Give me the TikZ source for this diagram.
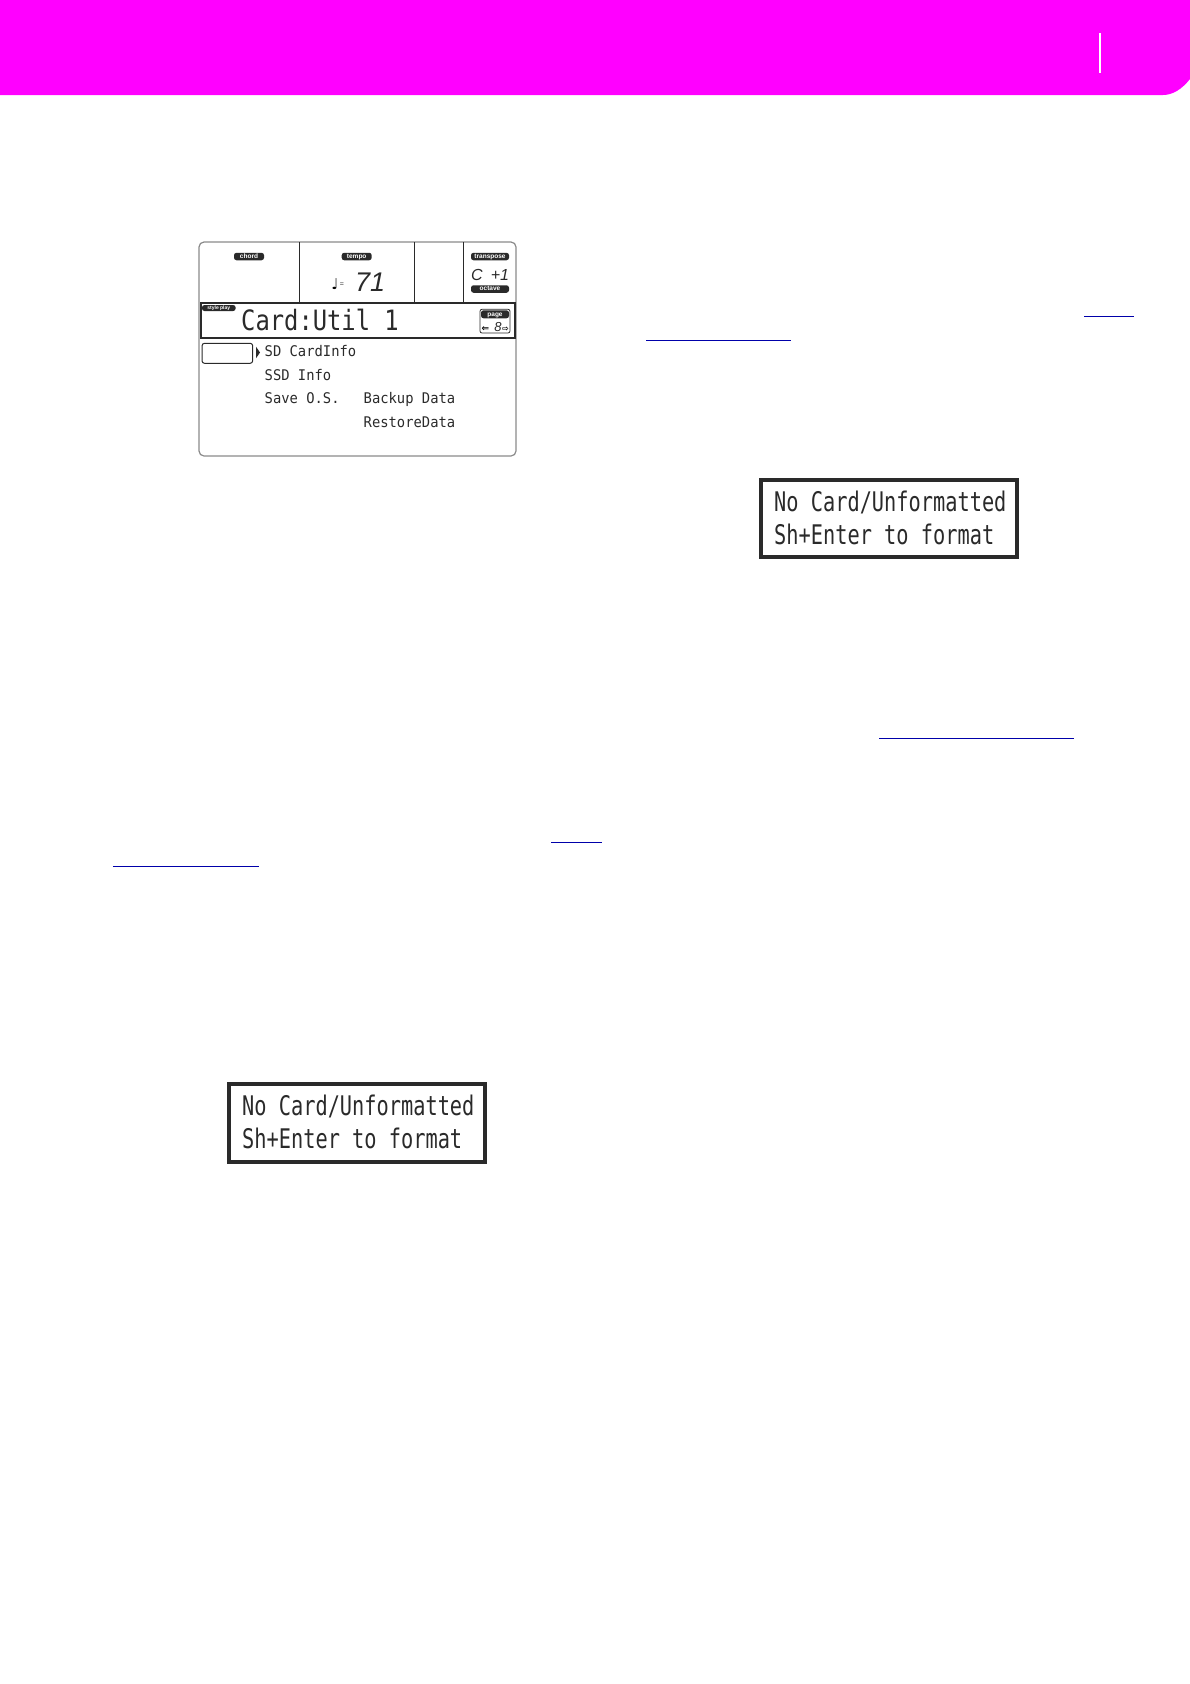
\documentclass[tikz,border=0pt]{standalone}
\usepackage{fontspec}
\setmainfont{Liberation Sans}
\newfontfamily\lcdtitle[FakeStretch=0.85]{DejaVu Sans Mono}
\newfontfamily\lcdbox[FakeStretch=0.752]{DejaVu Sans Mono}
\newfontfamily\lcdmenu[FakeStretch=0.94]{DejaVu Sans Mono}
\newfontfamily\symfont{DejaVu Sans}
\definecolor{headmag}{HTML}{FF00FF}
\definecolor{linkblue}{HTML}{0000AA}
\definecolor{lcddark}{HTML}{2A2A2A}
\definecolor{lcdgrey}{HTML}{8A8A8A}
\tikzset{
  pill/.style={fill=lcddark,text=white,rounded corners=2.5pt,inner sep=0pt,minimum height=7.5pt,
    text height=4.4pt,text depth=1pt,font=\bfseries\fontsize{6.5}{6.5}\selectfont},
  titletext/.style={anchor=base west,inner sep=0pt,text=lcddark,font=\lcdtitle\fontsize{28}{28}\selectfont},
  menutext/.style={anchor=base west,inner sep=0pt,text=lcddark,font=\lcdmenu\fontsize{14.7}{14.7}\selectfont},
  boxtext/.style={anchor=base west,inner sep=0pt,text=lcddark,font=\lcdbox\fontsize{27}{27}\selectfont},
  segtext/.style={anchor=base west,inner sep=0pt,text=lcddark,font=\itshape},
  msgbox/.style={draw=lcddark,line width=4pt,fill=white},
  link/.style={draw=linkblue,line width=1pt}
}
\begin{document}
\begin{tikzpicture}[x=1pt,y=-1pt]
  \useasboundingbox (0,0) rectangle (1190,1684);

  % page header
  \fill[headmag] (0,0) -- (1190,0) -- (1190,79) .. controls (1182,89) and (1173,95) .. (1163,95) -- (0,95) -- cycle;
  \draw[white,line width=2.5pt] (1100,33) -- (1100,73);

  % lcd frame
  \draw[lcdgrey,line width=1.2pt,rounded corners=5pt] (199,242) rectangle (516,456);
  \draw[lcddark,line width=.9pt] (299.3,242) -- (299.3,303);
  \draw[lcddark,line width=.9pt] (414.3,242) -- (414.3,303);
  \draw[lcddark,line width=.9pt] (463.7,242) -- (463.7,303);
  \draw[lcddark,line width=1.6pt] (200.7,302.7) rectangle (515,337.7);

  \node[pill,minimum width=30pt] (chord) at (249,256.5) {chord};
  \node[pill,minimum width=30pt] (tempo) at (356.7,256.5) {tempo};
  \node[pill,minimum width=38pt] (transpose) at (490,256.5) {transpose};
  \node[pill,minimum width=38pt] (octave) at (490,289) {octave};
  \node[pill,minimum width=33.7pt,minimum height=6pt,text height=3.4pt,text depth=.8pt,font=\bfseries\fontsize{5}{5}\selectfont] (styleplay) at (218.8,308) {style play};

  % tempo and transpose readouts
  \node[anchor=base,inner sep=0pt,text=black,font=\symfont\fontsize{15}{15}\selectfont] (note) at (335,289.5) {♩};
  \node[anchor=base,inner sep=0pt,text=lcddark,font=\fontsize{7}{7}\selectfont] (equals) at (342,286) {=};
  \node[segtext,font=\itshape\fontsize{27}{27}\selectfont] (tempoval) at (355,291) {71};
  \node[segtext,font=\itshape\fontsize{16}{16}\selectfont] (transval) at (471,280.5) {C\hspace{.5em}+1};

  % page widget
  \draw[lcddark,line width=.8pt,rounded corners=2pt] (480,309.3) rectangle (510,333);
  \node[pill,minimum width=28pt,minimum height=8pt] (pagelabel) at (495,314.3) {page};
  \node[anchor=base,inner sep=0pt,text=black,font=\symfont\bfseries\fontsize{9}{9}\selectfont] (pageleft) at (485.5,331) {⇐};
  \node[anchor=base,inner sep=0pt,text=lcddark,font=\itshape\fontsize{13}{13}\selectfont] (pagenum) at (498,331) {8};
  \node[anchor=base,inner sep=0pt,text=black,font=\symfont\bfseries\fontsize{8}{8}\selectfont] (pageright) at (505.5,331) {⇨};

  % title and menu
  \node[titletext] (title) at (241,330.5) {Card:Util 1};
  \draw[lcddark,line width=1pt,rounded corners=2.5pt] (202,343.3) rectangle (252.7,363.3);
  \fill[lcddark] (256,346.7) -- (260,352.5) -- (256,358.3) -- cycle;
  \node[menutext] (cardinfo) at (264.5,356.4) {SD CardInfo};
  \node[menutext] (ssdinfo) at (264.5,380.2) {SSD Info};
  \node[menutext] (saveos) at (264.5,403.5) {Save O.S.};
  \node[menutext] (backup) at (363.5,403.5) {Backup Data};
  \node[menutext] (restore) at (363.5,427.4) {RestoreData};

  % message boxes
  \draw[msgbox] (761,480) rectangle (1017,557);
  \node[boxtext] (msgrighta) at (774,511.7) {No Card/Unformatted};
  \node[boxtext] (msgrightb) at (774,544) {Sh+Enter to format};

  \draw[msgbox] (229.3,1084) rectangle (484.7,1162);
  \node[boxtext] (msglefta) at (242,1115.7) {No Card/Unformatted};
  \node[boxtext] (msgleftb) at (242,1148) {Sh+Enter to format};

  % link underlines
  \draw[link] (1084,316) -- (1134,316);
  \draw[link] (646,340.3) -- (791,340.3);
  \draw[link] (879,738.3) -- (1073.7,738.3);
  \draw[link] (551,842.3) -- (601.5,842.3);
  \draw[link] (112.8,866.3) -- (258.9,866.3);

\end{tikzpicture}
\end{document}
